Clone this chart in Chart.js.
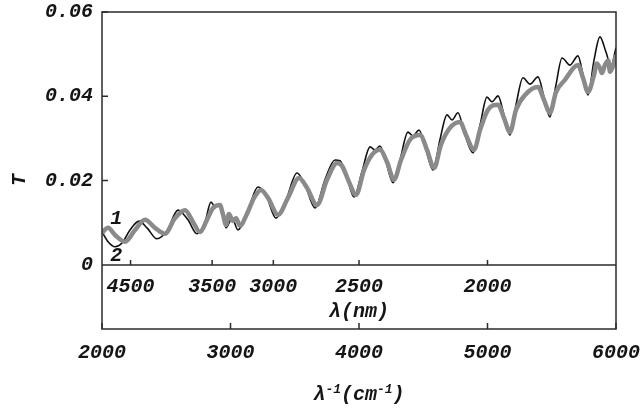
<!DOCTYPE html>
<html>
<head>
<meta charset="utf-8">
<script src="https://cdn.jsdelivr.net/npm/chart.js@4"></script>
<style>
  html, body { margin: 0; padding: 0; background: #fff; }
  #wrap { width: 643px; height: 410px; }
</style>
</head>
<body>
<div id="wrap"><canvas id="c" width="643" height="410"></canvas></div>
<script>
// ---- data ----
const waveBlack = [2000,2047,2101,2156,2218,2288,2350,2428,2506,2591,2669,2739,2802,2848,2879,2910,2934,2965,3012,3058,3136,3214,3276,3354,3432,3517,3580,3658,3735,3813,3852,3907,3961,4023,4086,4124,4163,4210,4265,4319,4381,4420,4467,4521,4576,4630,4685,4724,4770,4825,4887,4942,4996,5035,5082,5128,5175,5222,5276,5331,5393,5440,5486,5533,5580,5642,5704,5743,5782,5829,5875,5922,5961,6000];
const tBlack    = [0.0078,0.0055,0.0043,0.0052,0.0083,0.0104,0.0088,0.0062,0.0081,0.0130,0.0107,0.0074,0.0102,0.0149,0.0138,0.0145,0.0130,0.0088,0.0111,0.0083,0.0130,0.0185,0.0166,0.0111,0.0154,0.0218,0.0190,0.0135,0.0202,0.0249,0.0247,0.0206,0.0161,0.0221,0.0280,0.0273,0.0282,0.0244,0.0195,0.0249,0.0315,0.0306,0.0320,0.0273,0.0225,0.0297,0.0356,0.0344,0.0361,0.0308,0.0266,0.0332,0.0398,0.0387,0.0401,0.0356,0.0308,0.0380,0.0444,0.0429,0.0446,0.0398,0.0351,0.0427,0.0491,0.0474,0.0496,0.0451,0.0403,0.0486,0.0541,0.0505,0.0472,0.0515];

const waveGray = [2000,2047,2101,2179,2257,2335,2412,2490,2568,2646,2708,2763,2817,2864,2918,2942,2965,2988,3019,3043,3074,3128,3183,3237,3292,3370,3447,3533,3595,3673,3751,3829,3868,3922,3977,4039,4101,4163,4218,4272,4327,4397,4475,4529,4584,4638,4708,4786,4833,4895,4942,5004,5082,5128,5175,5222,5292,5393,5440,5486,5533,5603,5704,5743,5782,5829,5850,5875,5890,5914,5940,5953,5975,6000];
const tGray    = [0.0076,0.0088,0.0071,0.0055,0.0083,0.0107,0.0088,0.0074,0.0111,0.0130,0.0102,0.0078,0.0107,0.0135,0.0142,0.0119,0.0095,0.0121,0.0104,0.0111,0.0093,0.0121,0.0159,0.0178,0.0159,0.0119,0.0159,0.0206,0.0183,0.0142,0.0202,0.0242,0.0235,0.0197,0.0166,0.0225,0.0261,0.0273,0.0244,0.0202,0.0249,0.0297,0.0308,0.0273,0.0230,0.0285,0.0325,0.0339,0.0308,0.0273,0.0320,0.0368,0.0380,0.0349,0.0315,0.0368,0.0403,0.0422,0.0391,0.0361,0.0410,0.0439,0.0474,0.0444,0.0410,0.0451,0.0478,0.0467,0.0455,0.0474,0.0485,0.0458,0.0470,0.0498];

const yTickValues = [0, 0.02, 0.04, 0.06];
const xTickValues = [2000, 3000, 4000, 5000, 6000];
const nmTickValues = [4500, 3500, 3000, 2500, 2000];

const FONT = '"Liberation Mono", "Courier New", monospace';
const AXIS = '#2b2b2b';
const FS = 20;

const framePlugin = {
  id: 'frame',
  afterDraw(chart) {
    const ctx = chart.ctx;
    const a = chart.chartArea;
    const xs = chart.scales.x, ys = chart.scales.y;
    const y0 = ys.getPixelForValue(0);
    ctx.save();
    ctx.strokeStyle = AXIS;
    ctx.lineWidth = 1.5;
    ctx.strokeRect(a.left, a.top, a.right - a.left, a.bottom - a.top);
    ctx.beginPath();
    ctx.moveTo(a.left, y0); ctx.lineTo(a.right, y0);
    yTickValues.forEach(v => {
      const p = ys.getPixelForValue(v);
      ctx.moveTo(a.left, p); ctx.lineTo(a.left + 6, p);
    });
    xTickValues.forEach(v => {
      const p = xs.getPixelForValue(v);
      ctx.moveTo(p, a.bottom); ctx.lineTo(p, a.bottom - 6);
    });
    nmTickValues.forEach(nm => {
      const p = xs.getPixelForValue(1e7 / nm);
      ctx.moveTo(p, y0); ctx.lineTo(p, y0 - 5);
    });
    ctx.stroke();

    ctx.fillStyle = '#151515';
    ctx.font = 'bold italic ' + FS + 'px ' + FONT;
    ctx.textAlign = 'center';
    ctx.textBaseline = 'middle';
    nmTickValues.forEach(nm => {
      const p = xs.getPixelForValue(1e7 / nm);
      ctx.fillText(String(nm), p, y0 + 22);
    });
    const cx = (a.left + a.right) / 2;
    ctx.fillText('λ(nm)', cx, y0 + 47);

    const base = 'bold italic ' + FS + 'px ' + FONT;
    const sup = 'bold italic 13px ' + FONT;
    const parts = [['λ', base, 0], ['-1', sup, -7], ['(cm', base, 0], ['-1', sup, -7], [')', base, 0]];
    let total = 0;
    parts.forEach(p => { ctx.font = p[1]; total += ctx.measureText(p[0]).width; });
    let x = cx - total / 2;
    ctx.textAlign = 'left';
    ctx.textBaseline = 'alphabetic';
    parts.forEach(p => { ctx.font = p[1]; ctx.fillText(p[0], x, 400 + p[2]); x += ctx.measureText(p[0]).width; });

    ctx.save();
    ctx.translate(20, 180);
    ctx.rotate(-Math.PI / 2);
    ctx.font = 'bold italic ' + FS + 'px ' + FONT;
    ctx.textAlign = 'center';
    ctx.textBaseline = 'middle';
    ctx.fillText('T', 0, 0);
    ctx.restore();

    ctx.font = 'bold italic ' + FS + 'px ' + FONT;
    ctx.textAlign = 'center';
    ctx.textBaseline = 'middle';
    ctx.fillText('1', xs.getPixelForValue(2110), ys.getPixelForValue(0.0108));
    ctx.fillText('2', xs.getPixelForValue(2110), ys.getPixelForValue(0.0022));
    ctx.restore();
  }
};

new Chart(document.getElementById('c'), {
  type: 'line',
  data: {
    datasets: [
      {
        label: '1',
        data: waveGray.map((w, i) => ({ x: w, y: tGray[i] })),
        borderColor: '#8a8a8a',
        borderWidth: 4.5,
        pointRadius: 0,
        cubicInterpolationMode: 'monotone',
        fill: false
      },
      {
        label: '2',
        data: waveBlack.map((w, i) => ({ x: w, y: tBlack[i] })),
        borderColor: '#111111',
        borderWidth: 1.6,
        pointRadius: 0,
        cubicInterpolationMode: 'monotone',
        fill: false
      }
    ]
  },
  options: {
    responsive: false,
    animation: false,
    devicePixelRatio: 1,
    layout: { padding: { left: 0, right: 27, top: 12, bottom: 0 } },
    plugins: { legend: { display: false }, tooltip: { enabled: false } },
    scales: {
      x: {
        type: 'linear',
        min: 2000, max: 6000,
        afterBuildTicks(s) { s.ticks = xTickValues.map(v => ({ value: v })); },
        afterFit(s) { s.height = 81; s.paddingLeft = 0; s.paddingRight = 0; },
        grid: { display: false, drawTicks: false },
        border: { display: false },
        ticks: {
          padding: 12,
          color: '#151515',
          font: { family: FONT, size: FS, style: 'italic', weight: 'bold' },
          maxRotation: 0,
          callback: v => String(v)
        }
      },
      y: {
        type: 'linear',
        min: -0.0152, max: 0.06,
        afterBuildTicks(s) { s.ticks = yTickValues.map(v => ({ value: v })); },
        afterFit(s) { s.width = 102; s.paddingTop = 0; s.paddingBottom = 0; },
        grid: { display: false, drawTicks: false },
        border: { display: false },
        ticks: {
          padding: 9,
          color: '#151515',
          font: { family: FONT, size: FS, style: 'italic', weight: 'bold' },
          callback: v => (v === 0 ? '0' : v.toFixed(2))
        }
      }
    }
  },
  plugins: [framePlugin]
});
</script>
</body>
</html>
